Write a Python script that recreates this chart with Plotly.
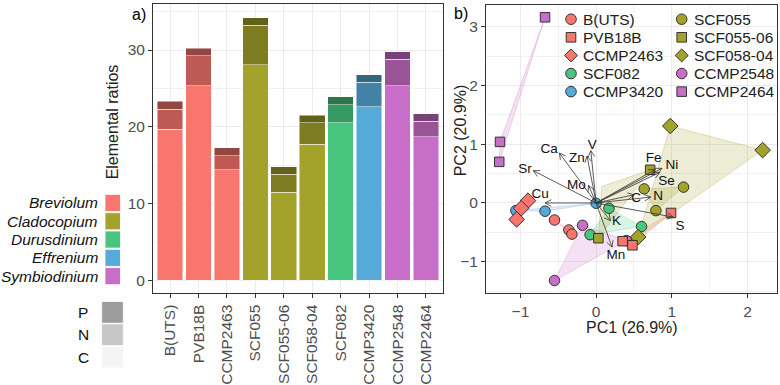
import math
import plotly.graph_objects as go

W, H = 780, 385

# ---------------- data: panel a) ----------------
strains = ["B(UTS)", "PVB18B", "CCMP2463", "SCF055", "SCF055-06", "SCF058-04",
           "SCF082", "CCMP3420", "CCMP2548", "CCMP2464"]
strain_genus = ["Breviolum", "Breviolum", "Breviolum", "Cladocopium", "Cladocopium",
                "Cladocopium", "Durusdinium", "Effrenium", "Symbiodinium", "Symbiodinium"]
carbon = [19.7, 25.35, 14.4, 28.1, 11.5, 17.7, 20.5, 22.6, 25.35, 18.7]
nitrogen = [2.6, 3.9, 1.85, 5.1, 2.3, 2.8, 2.4, 3.2, 3.45, 2.0]
phosphorus = [1.0, 1.0, 1.0, 1.0, 1.0, 1.0, 1.0, 1.0, 1.0, 1.0]

genera = ["Breviolum", "Cladocopium", "Durusdinium", "Effrenium", "Symbiodinium"]
genus_colors = ["#F8766D", "#A3A22A", "#48C680", "#56AAD8", "#C86EC8"]
element_labels = ["P", "N", "C"]
element_swatches = ["#9E9C9B", "#C8C6C5", "#F4F4F4"]

# ---------------- data: panel b) ----------------
pca_strains = ["B(UTS)", "PVB18B", "CCMP2463", "SCF082", "CCMP3420",
               "SCF055", "SCF055-06", "SCF058-04", "CCMP2548", "CCMP2464"]
pca_genus = ["Breviolum", "Breviolum", "Breviolum", "Durusdinium", "Effrenium",
             "Cladocopium", "Cladocopium", "Cladocopium", "Symbiodinium", "Symbiodinium"]
pca_symbols = ["circle", "square", "diamond", "circle", "circle",
               "circle", "square", "diamond", "circle", "square"]
pc1 = {
    "B(UTS)": [-0.55, -0.36, -0.32],
    "PVB18B": [0.99, 0.35, 0.48],
    "CCMP2463": [-0.90, -0.99, -1.05],
    "SCF082": [0.17, 0.60, -0.08],
    "CCMP3420": [-1.06, -0.675, 0.0],
    "SCF055": [0.635, 1.155, 0.79],
    "SCF055-06": [0.714, 0.03],
    "SCF058-04": [0.98, 2.20, 0.556],
    "CCMP2548": [-0.18, -0.55, 0.40],
    "CCMP2464": [-0.675, -1.27, -1.28],
}
pc2 = {
    "B(UTS)": [-0.29, -0.46, -0.53],
    "PVB18B": [-0.17, -0.65, -0.72],
    "CCMP2463": [0.04, -0.09, -0.28],
    "SCF082": [-0.09, -0.40, -0.54],
    "CCMP3420": [-0.13, -0.14, -0.005],
    "SCF055": [0.24, 0.27, -0.13],
    "SCF055-06": [0.565, -0.60],
    "SCF058-04": [1.31, 0.90, -0.58],
    "CCMP2548": [-0.38, -1.32, -0.64],
    "CCMP2464": [3.16, 1.04, 0.70],
}
# hull vertex seen without a visible marker
hull_extra_pc1 = {"SCF055-06": [0.075]}
hull_extra_pc2 = {"SCF055-06": [0.28]}

draw_order = ["CCMP3420", "CCMP2548", "SCF082", "B(UTS)", "SCF055", "SCF058-04",
              "SCF055-06", "CCMP2464", "CCMP2463", "PVB18B"]

load_names = ["C", "N", "S", "K", "Mn", "Cu", "Sr", "Ca", "Zn", "V", "Mo", "Fe", "Ni", "Se"]
load_pc1 = [0.50, 0.72, 1.02, 0.19, 0.21, -0.675, -0.83, -0.485, -0.12, -0.07, -0.10, 0.78, 0.87, 0.84]
load_pc2 = [0.14, 0.10, -0.24, -0.30, -0.75, 0.0, 0.55, 0.85, 0.80, 0.89, 0.30, 0.57, 0.59, 0.52]
label_pc1 = [0.53, 0.82, 1.11, 0.27, 0.26, -0.74, -0.94, -0.62, -0.255, -0.05, -0.26, 0.76, 1.00, 0.93]
label_pc2 = [0.07, 0.11, -0.41, -0.32, -0.89, 0.15, 0.56, 0.90, 0.75, 0.97, 0.29, 0.76, 0.63, 0.37]

# ---------------- helpers ----------------
FONT = "Liberation Sans, Arial, sans-serif"
gcol = dict(zip(genera, genus_colors))


def shade(hx, f):
    r, g, b = int(hx[1:3], 16), int(hx[3:5], 16), int(hx[5:7], 16)
    return "rgb(%d,%d,%d)" % (r * f, g * f, b * f)


def rgba(hx, a):
    r, g, b = int(hx[1:3], 16), int(hx[3:5], 16), int(hx[5:7], 16)
    return "rgba(%d,%d,%d,%.2f)" % (r, g, b, a)


def px(x):
    return x / W


def py(y):
    return 1 - y / H


def hull(points):
    pts = sorted(set(points))
    if len(pts) < 3:
        return pts

    def cross(o, a, b):
        return (a[0] - o[0]) * (b[1] - o[1]) - (a[1] - o[1]) * (b[0] - o[0])
    lower, upper = [], []
    for p in pts:
        while len(lower) >= 2 and cross(lower[-2], lower[-1], p) <= 0:
            lower.pop()
        lower.append(p)
    for p in reversed(pts):
        while len(upper) >= 2 and cross(upper[-2], upper[-1], p) <= 0:
            upper.pop()
        upper.append(p)
    return lower[:-1] + upper[:-1]


fig = go.Figure()

# ---------------- panel a) bars ----------------
base_cols = [gcol[g] for g in strain_genus]
for vals, fac, name in [(carbon, 1.0, "C"), (nitrogen, 0.77, "N"), (phosphorus, 0.60, "P")]:
    fig.add_trace(go.Bar(
        x=strains, y=vals, name=name, showlegend=False,
        marker=dict(color=[shade(c, fac) for c in base_cols],
                    line=dict(color="rgba(255,255,255,0.8)", width=0.6)),
        xaxis="x", yaxis="y", hoverinfo="skip"))

# ---------------- panel b) hulls ----------------
for s, g in zip(pca_strains, pca_genus):
    pts = list(zip(pc1[s] + hull_extra_pc1.get(s, []), pc2[s] + hull_extra_pc2.get(s, [])))
    hp = hull(pts)
    hp = hp + [hp[0]]
    fig.add_trace(go.Scatter(
        x=[p[0] for p in hp], y=[p[1] for p in hp], mode="lines", fill="toself",
        fillcolor=rgba(gcol[g], 0.2), line=dict(color=rgba(gcol[g], 0.35), width=0.8),
        showlegend=False, xaxis="x2", yaxis="y2", hoverinfo="skip"))

# ---------------- panel b) points ----------------
sym_of = dict(zip(pca_strains, pca_symbols))
gen_of = dict(zip(pca_strains, pca_genus))
for s in draw_order:
    sym = sym_of[s]
    size = {"circle": 10.5, "square": 9.5, "diamond": 12}[sym]
    fig.add_trace(go.Scatter(
        x=pc1[s], y=pc2[s], mode="markers", showlegend=False,
        marker=dict(symbol=sym, size=size, color=gcol[gen_of[s]],
                    line=dict(color="#333333", width=1)),
        xaxis="x2", yaxis="y2", hoverinfo="skip"))

# ---------------- panel b) loading arrows ----------------
XR = [-1.455, 2.39]
YR = [-1.54, 3.37]
SX = (777 - 486) / (XR[1] - XR[0])
SY = (295 - 5) / (YR[1] - YR[0])
lx, ly = [], []
for x, y in zip(load_pc1, load_pc2):
    lx += [0, x, None]
    ly += [0, y, None]
    a = math.atan2(y * SY, x * SX)
    L = 7.0
    for d in (math.radians(28), -math.radians(28)):
        hx = x - L * math.cos(a + d) / SX
        hy = y - L * math.sin(a + d) / SY
        lx += [hx, x, None]
        ly += [hy, y, None]
fig.add_trace(go.Scatter(x=lx, y=ly, mode="lines", line=dict(color="#333333", width=0.8),
                         showlegend=False, xaxis="x2", yaxis="y2", hoverinfo="skip"))
fig.add_trace(go.Scatter(x=label_pc1, y=label_pc2, text=load_names, mode="text",
                         textfont=dict(family=FONT, size=13.5, color="#111111"),
                         showlegend=False, xaxis="x2", yaxis="y2", hoverinfo="skip"))

shapes = []
annotations = []

# ---------------- legends (drawn in page coordinates) ----------------
# genus legend
for i, (g, c) in enumerate(zip(genera, genus_colors)):
    cy = 204 + i * 18.4
    shapes.append(dict(type="rect", xref="paper", yref="paper",
                       x0=px(105), x1=px(120.5), y0=py(cy + 8.6), y1=py(cy - 8.6),
                       fillcolor=c, line=dict(width=0.8, color="white")))
    annotations.append(dict(xref="paper", yref="paper", x=px(100), y=py(cy), text="<i>%s</i>" % g,
                            xanchor="right", yanchor="middle", showarrow=False,
                            font=dict(family=FONT, size=15.5, color="#111111")))
# element legend
for i, (e, c) in enumerate(zip(element_labels, element_swatches)):
    cy = 314 + i * 22.5
    shapes.append(dict(type="rect", xref="paper", yref="paper",
                       x0=px(101.7), x1=px(123.3), y0=py(cy + 10.9), y1=py(cy - 10.9),
                       fillcolor=c, line=dict(width=0.8, color="white")))
    annotations.append(dict(xref="paper", yref="paper", x=px(83), y=py(cy), text=e,
                            xanchor="center", yanchor="middle", showarrow=False,
                            font=dict(family=FONT, size=15.5, color="#111111")))

# PCA legend (two columns)
leg_cols = [pca_strains[:5], ["SCF055", "SCF055-06", "SCF058-04", "CCMP2548", "CCMP2464"]]
for ci, col in enumerate(leg_cols):
    mx = [571, 681.7][ci]
    for ri, s in enumerate(col):
        cy = 19.3 + ri * 18.2
        sym = sym_of[s]
        c = gcol[gen_of[s]]
        ln = dict(color="#333333", width=1)
        if sym == "circle":
            r = 5.3
            shapes.append(dict(type="circle", xref="paper", yref="paper",
                               x0=px(mx - r), x1=px(mx + r), y0=py(cy + r), y1=py(cy - r),
                               fillcolor=c, line=ln))
        elif sym == "square":
            r = 4.8
            shapes.append(dict(type="rect", xref="paper", yref="paper",
                               x0=px(mx - r), x1=px(mx + r), y0=py(cy + r), y1=py(cy - r),
                               fillcolor=c, line=ln))
        else:
            r = 6.5
            path = "M %f %f L %f %f L %f %f L %f %f Z" % (
                px(mx), py(cy - r), px(mx + r), py(cy), px(mx), py(cy + r), px(mx - r), py(cy))
            shapes.append(dict(type="path", xref="paper", yref="paper", path=path,
                               fillcolor=c, line=ln))
        annotations.append(dict(xref="paper", yref="paper", x=px(mx + 10), y=py(cy), text=s,
                                xanchor="left", yanchor="middle", showarrow=False,
                                font=dict(family=FONT, size=15.5, color="#222222")))

# titles and panel tags
annotations += [
    dict(xref="paper", yref="paper", x=px(112), y=py(122), text="Elemental ratios", textangle=-90,
         showarrow=False, xanchor="center", yanchor="middle", font=dict(family=FONT, size=16, color="#222222")),
    dict(xref="paper", yref="paper", x=px(460), y=py(131), text="PC2 (20.9%)", textangle=-90,
         showarrow=False, xanchor="center", yanchor="middle", font=dict(family=FONT, size=16, color="#222222")),
    dict(xref="paper", yref="paper", x=px(632), y=py(329), text="PC1 (26.9%)",
         showarrow=False, xanchor="center", yanchor="middle", font=dict(family=FONT, size=16, color="#222222")),
    dict(xref="paper", yref="paper", x=px(130), y=py(15), text="a)",
         showarrow=False, xanchor="left", yanchor="middle", font=dict(family=FONT, size=16, color="#000000")),
    dict(xref="paper", yref="paper", x=px(452), y=py(14), text="b)",
         showarrow=False, xanchor="left", yanchor="middle", font=dict(family=FONT, size=16, color="#000000")),
]

tickfont = dict(family=FONT, size=15.5, color="#4D4D4D")
axis_common = dict(showline=True, mirror=True, linecolor="#333333", linewidth=1,
                   ticks="outside", ticklen=4, tickcolor="#333333", tickwidth=1,
                   showgrid=True, gridcolor="#EBEBEB", gridwidth=1, zeroline=False,
                   tickfont=tickfont)

fig.update_layout(
    width=W, height=H, margin=dict(l=0, r=0, t=0, b=0),
    paper_bgcolor="white", plot_bgcolor="white",
    barmode="stack", bargap=0.1, showlegend=False,
    font=dict(family=FONT),
    xaxis=dict(domain=[px(153), px(443)], anchor="y", type="category",
               range=[-0.6, 9.6], tickangle=-90, **axis_common),
    yaxis=dict(domain=[py(295), py(4)], anchor="x", range=[-1.7, 36.0],
               tickvals=[0, 10, 20, 30],
               minor=dict(tickvals=[5, 15, 25, 35], showgrid=True, gridcolor="#F2F2F2", gridwidth=0.6),
               **axis_common),
    xaxis2=dict(domain=[px(486), px(777)], anchor="y2", range=XR,
                tickvals=[-1, 0, 1, 2],
                minor=dict(tickvals=[-1.5, -0.5, 0.5, 1.5], showgrid=True, gridcolor="#F2F2F2", gridwidth=0.6),
                **axis_common),
    yaxis2=dict(domain=[py(295), py(5)], anchor="x2", range=YR,
                tickvals=[-1, 0, 1, 2, 3],
                minor=dict(tickvals=[-1.5, -0.5, 0.5, 1.5, 2.5], showgrid=True, gridcolor="#F2F2F2", gridwidth=0.6),
                **axis_common),
    shapes=shapes, annotations=annotations,
)

fig.write_html("out.html", config={"displayModeBar": False},
               post_script="document.body.style.margin='0';document.body.style.overflow='hidden';")
